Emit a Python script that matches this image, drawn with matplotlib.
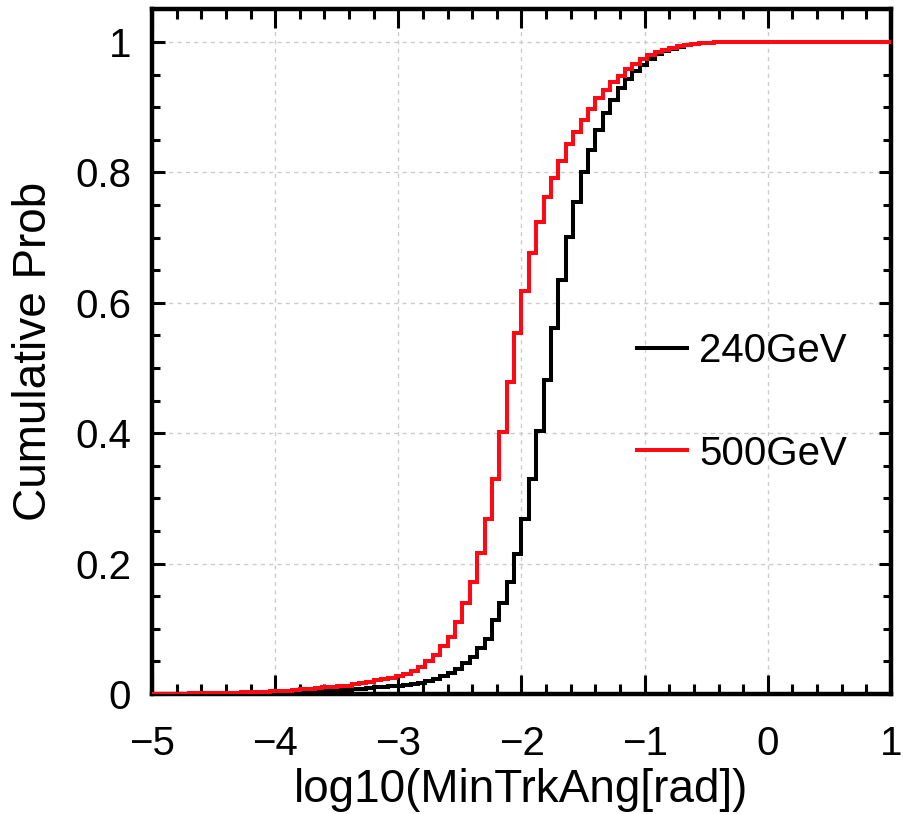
import numpy as np
import matplotlib
matplotlib.use("Agg")
import matplotlib.pyplot as plt
from matplotlib.ticker import MultipleLocator, FuncFormatter

# Cumulative probability per bin (100 bins of width 0.06 from -5 to 1)
x_min, x_max, n_bins = -5.0, 1.0, 100

cum_240 = [
    0, 0, 0, 0, 0, 0, 0, 0, 0, 0.0005,
    0.0005, 0.0005, 0.001, 0.001, 0.0015, 0.0015, 0.002, 0.002, 0.0025, 0.003,
    0.0035, 0.004, 0.0045, 0.005, 0.0055, 0.006, 0.0065, 0.007, 0.008, 0.009,
    0.010, 0.011, 0.012, 0.013, 0.014, 0.015, 0.017, 0.020, 0.023, 0.027,
    0.032, 0.038, 0.047, 0.057, 0.070, 0.085, 0.113, 0.139, 0.172, 0.215,
    0.268, 0.330, 0.403, 0.482, 0.561, 0.635, 0.701, 0.755, 0.800, 0.834,
    0.865, 0.891, 0.911, 0.930, 0.944, 0.955, 0.965, 0.974, 0.981, 0.986,
    0.990, 0.993, 0.995, 0.997, 0.998, 0.999, 0.9995, 1, 1, 1,
    1, 1, 1, 1, 1, 1, 1, 1, 1, 1,
    1, 1, 1, 1, 1, 1, 1, 1, 1, 1,
]

cum_500 = [
    0, 0, 0, 0.0005, 0.0005, 0.001, 0.001, 0.001, 0.0015, 0.0015,
    0.002, 0.002, 0.0025, 0.003, 0.003, 0.0035, 0.004, 0.0045, 0.005, 0.006,
    0.007, 0.008, 0.009, 0.010, 0.011, 0.012, 0.013, 0.015, 0.017, 0.019,
    0.021, 0.023, 0.025, 0.028, 0.031, 0.036, 0.042, 0.050, 0.060, 0.073,
    0.088, 0.111, 0.139, 0.172, 0.216, 0.268, 0.329, 0.402, 0.478, 0.553,
    0.618, 0.677, 0.724, 0.762, 0.792, 0.818, 0.844, 0.862, 0.880, 0.898,
    0.914, 0.926, 0.939, 0.948, 0.958, 0.967, 0.974, 0.980, 0.984, 0.988,
    0.991, 0.994, 0.996, 0.997, 0.998, 0.999, 0.9995, 1, 1, 1,
    1, 1, 1, 1, 1, 1, 1, 1, 1, 1,
    1, 1, 1, 1, 1, 1, 1, 1, 1, 1,
]

labels = ["240GeV", "500GeV"]
colors = ["black", "#ff0a14"]

plt.rcParams['font.family'] = ['Liberation Sans', 'DejaVu Sans']

fig = plt.figure(figsize=(9.04, 8.14), dpi=100)
ax = fig.add_axes([152/904, (814-694)/814, (891-152)/904, (694-9.4)/814])

edges = np.linspace(x_min, x_max, n_bins + 1)
for vals, lab, col in zip([cum_240, cum_500], labels, colors):
    ax.stairs(vals, edges, baseline=None, color=col, lw=2.9, label=lab, zorder=3)

ax.set_xlim(x_min, x_max)
ax.set_ylim(0, 1.05)

ax.xaxis.set_major_locator(MultipleLocator(1))
ax.xaxis.set_minor_locator(MultipleLocator(0.2))
ax.yaxis.set_major_locator(MultipleLocator(0.2))
ax.yaxis.set_minor_locator(MultipleLocator(0.05))
ax.yaxis.set_major_formatter(FuncFormatter(lambda v, p: f"{v:g}"))

ax.grid(True, which='major', linestyle=(0, (3, 3)), color='#cccccc', lw=1.0, zorder=0)
ax.set_axisbelow(True)

ax.tick_params(which='both', direction='in', top=True, right=True, width=2.2, labelsize=29)
ax.tick_params(axis='x', which='major', length=14, pad=22)
ax.tick_params(axis='x', which='minor', length=7)
ax.tick_params(axis='y', which='major', length=9, pad=15)
ax.tick_params(axis='y', which='minor', length=6)

for s in ax.spines.values():
    s.set_linewidth(3.2)

ax.set_xlabel("log10(MinTrkAng[rad])", fontsize=33, labelpad=4)
ax.set_ylabel("Cumulative Prob", fontsize=33, labelpad=14)

leg = ax.legend(loc='center left', bbox_to_anchor=(0.656, 0.426), frameon=False,
                fontsize=29, handlelength=1.25, handletextpad=0.3,
                labelspacing=1.6, borderpad=0, borderaxespad=0)

fig.savefig("out.png", dpi=100)
